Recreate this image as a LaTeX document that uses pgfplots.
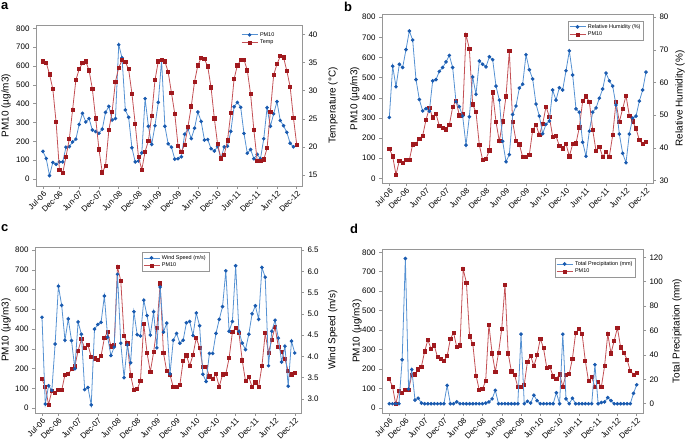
\documentclass[border=0pt]{standalone}
\usepackage{pgfplots}
\pgfplotsset{compat=1.18}
\usepackage{pgfplotstable}
\usepackage{fontspec}
\setmainfont{Liberation Sans}

\definecolor{bmark}{RGB}{25,90,175}
\definecolor{bline}{RGB}{85,145,210}
\definecolor{rmark}{RGB}{160,25,30}
\definecolor{rline}{RGB}{195,80,85}
\definecolor{axgray}{RGB}{150,150,150}

\pgfplotstableread{
i pm temp rh ws pr
0 147 35.2 49.3 4.92 0
1 109 35.0 65.0 2.88 0
2 18 32.9 58.7 3.31 0
3 88 30.3 65.6 3.20 0
4 78 24.4 64.6 4.29 36
5 91 16.0 70.1 5.65 119
6 91 15.4 75.8 5.20 12
7 169 18.3 73.0 4.38 28
8 172 21.4 60.9 4.88 3
9 197 26.6 54.8 4.37 4.5
10 212 31.9 51.3 3.71 0.5
11 290 33.8 52.0 4.81 0
12 349 34.9 51.2 4.52 0
13 303 35.2 60.5 3.22 0
14 321 33.6 60.9 3.27 0
15 260 30.3 63.4 2.86 0
16 252 25.1 64.6 4.64 0
17 243 19.6 66.3 4.75 0
18 265 15.5 68.3 4.80 15
19 354 16.7 64.6 5.42 0
20 386 23.0 54.1 4.45 0
21 313 26.3 52.6 4.02 1.5
22 321 31.6 49.7 4.22 0
23 713 34.1 40.8 5.93 0
24 644 35.4 49.5 4.31 0
25 367 35.1 61.7 3.50 0
26 328 33.8 56.4 4.27 0
27 166 29.5 66.6 3.85 0
28 91 24.1 65.6 5.05 0
29 96 18.2 64.8 4.51 0
30 139 16.0 67.9 4.48 0.5
31 427 19.2 67.0 5.32 1.5
32 280 21.1 58.9 4.96 4
33 184 25.6 54.6 4.50 11
34 283 31.9 42.0 5.05 0
35 407 35.2 35.7 4.20 0
36 631 35.5 37.9 5.63 0
37 280 35.2 50.2 4.57 0
38 187 33.3 52.8 4.78 0
39 169 29.6 58.3 3.59 0
40 106 25.9 59.5 4.38 0
41 108 20.2 68.5 4.54 57
42 118 19.2 63.9 4.31 0
43 238 20.4 61.1 4.38 2
44 267 23.6 53.4 4.79 0.5
45 215 27.2 49.7 4.82 7
46 270 31.6 44.3 4.49 2.5
47 356 34.5 47.2 5.02 0
48 306 35.8 48.2 4.72 0
49 207 35.6 57.7 3.58 0
50 210 34.3 54.6 3.41 0
51 161 30.6 58.4 4.07 0
52 149 25.1 57.7 4.07 9
53 172 20.5 63.6 4.54 0
54 109 18.0 69.7 4.87 57
55 171 18.6 62.3 5.17 4
56 174 21.2 51.9 6.01 0
57 253 26.0 50.9 4.59 4.5
58 384 32.1 41.7 4.82 0
59 407 34.5 37.4 6.13 0
60 381 35.4 45.1 4.59 0
61 242 35.5 50.9 4.31 0
62 137 33.6 52.2 4.16 0
63 157 29.4 55.2 4.52 0
64 108 23.0 58.0 5.00 32
65 131 17.6 62.9 5.19 0
66 108 17.6 60.5 4.87 1
67 214 17.8 58.9 6.09 1.5
68 379 19.8 53.1 5.86 5
69 280 26.3 44.2 3.78 2.5
70 346 32.8 38.3 4.59 0
71 411 34.7 35.4 4.85 0
72 311 36.1 44.2 4.43 0
73 283 35.9 49.1 3.87 0
74 248 33.5 49.7 4.24 0
75 190 30.7 54.3 3.30 0
76 171 25.2 57.7 4.36 8.5
77 180 20.4 63.2 4.08 15.5
}\data

\pgfplotsset{
  base/.style={scale only axis, axis line style={axgray, line width=0.6pt},
    tick style={axgray, line width=0.5pt}, tick align=outside,
    major tick length=3bp,
    ticklabel style={font=\fontsize{8}{9}\selectfont},
    /pgf/number format/assume math mode=true,
    label style={font=\fontsize{10}{11}\selectfont},
    ylabel style={anchor=center},
    legend style={font=\fontsize{5.5}{6}\selectfont, draw=axgray, line width=0.4pt,
      inner sep=1pt, row sep=-1.5pt, cells={anchor=west}, anchor=north west},
    legend image code/.code={\draw[mark repeat=2,mark phase=2,##1] plot coordinates {(0bp,0bp) (8bp,0bp) (16bp,0bp)};},
  },
  leftax/.style={base, xtick pos=left, ytick pos=left,
    ytick={0,100,...,800}, ylabel={PM10 (µg/m3)},
    xtick={0,5,11,17,23,29,35,41,47,53,59,65,71,77},
    xticklabels={Jul-06,Dec-06,Jun-07,Dec-07,Jun-08,Dec-08,Jun-09,Dec-09,Jun-10,Dec-10,Jun-11,Dec-11,Jun-12,Dec-12},
    xticklabel style={rotate=45, anchor=north east, inner sep=1pt},
  },
  rightax/.style={base, axis y line*=right, axis x line=none, xtick=\empty},
  bl/.style={color=bline, line width=0.8pt, mark=*, mark size=1.4pt, mark options={fill=bmark, draw=bmark}},
  rd/.style={color=rline, line width=0.8pt, mark=square*, mark size=1.6pt, mark options={fill=rmark, draw=rmark}},
}

\begin{document}
\begin{tikzpicture}
\useasboundingbox (0,0) rectangle (685bp,441bp);

% ---------- panel a
\begin{axis}[leftax, at={(36bp,255bp)}, width=266bp, height=161bp,
  xmin=-2.1, xmax=78.6, ymin=-37, ymax=818,
  ylabel style={at={(axis description cs:-0.113,0.5)}}]
\addplot[bl] table[x=i,y=pm]{\data};
\end{axis}
\begin{axis}[rightax, at={(36bp,255bp)}, width=266bp, height=161bp,
  xmin=-2.1, xmax=78.6, ymin=13.1, ymax=41.65, ytick={15,20,...,40},
  ylabel={Temperature (°C)},
  ylabel style={at={(axis description cs:1.117,0.5)}},
  legend style={at={(0.767,0.975)}, draw=none, fill=none}]
\addlegendimage{bl}\addlegendentry{PM10}
\addplot[rd] table[x=i,y=temp]{\data};
\addlegendentry{Temp}
\end{axis}

% ---------- panel b
\begin{axis}[leftax, at={(382bp,258bp)}, width=271bp, height=169bp,
  xmin=-2.2, xmax=79.1, ymin=-23, ymax=816,
  ylabel style={at={(axis description cs:-0.1,0.5)}}]
\addplot[rd] table[x=i,y=pm]{\data};
\end{axis}
\begin{axis}[rightax, at={(382bp,258bp)}, width=271bp, height=169bp,
  xmin=-2.2, xmax=79.1, ymin=29.2, ymax=81.0, ytick={30,40,...,80},
  ylabel={Relative Humidity (\%)},
  ylabel style={at={(axis description cs:1.10,0.5)}},
  legend style={at={(0.686,0.959)}}]
\addplot[bl] table[x=i,y=rh]{\data};
\addlegendentry{Relative Humidity (\%)}
\addlegendimage{rd}\addlegendentry{PM10}
\end{axis}

% ---------- panel c
\begin{axis}[leftax, at={(35bp,28bp)}, width=266bp, height=166bp,
  xmin=-2.13, xmax=78.9, ymin=-24, ymax=815,
  ylabel style={at={(axis description cs:-0.109,0.5)}}]
\addplot[rd] table[x=i,y=pm]{\data};
\end{axis}
\begin{axis}[rightax, at={(35bp,28bp)}, width=266bp, height=166bp,
  xmin=-2.13, xmax=78.9, ymin=2.67, ymax=6.57, ytick={3.0,3.5,...,6.5},
  yticklabel style={/pgf/number format/fixed, /pgf/number format/fixed zerofill, /pgf/number format/precision=1},
  ylabel={Wind Speed (m/s)},
  ylabel style={at={(axis description cs:1.12,0.5)}},
  legend style={at={(0.402,0.97)}}]
\addplot[bl] table[x=i,y=ws]{\data};
\addlegendentry{Wind Speed (m/s)}
\addlegendimage{rd}\addlegendentry{PM10}
\end{axis}

% ---------- panel d
\begin{axis}[leftax, at={(382bp,28bp)}, width=261bp, height=164bp,
  xmin=-2.27, xmax=78.96, ymin=-27, ymax=817,
  ylabel style={at={(axis description cs:-0.096,0.5)}}]
\addplot[rd] table[x=i,y=pm]{\data};
\end{axis}
\begin{axis}[rightax, at={(382bp,28bp)}, width=261bp, height=164bp,
  xmin=-2.27, xmax=78.96, ymin=-7.6, ymax=126.8, ytick={0,20,...,120},
  ylabel={Total Precipitation (mm)},
  ylabel style={at={(axis description cs:1.13,0.5)}},
  legend style={at={(0.663,0.945)}}]
\addplot[bl] table[x=i,y=pr]{\data};
\addlegendentry{Total Precipitation (mm)}
\addlegendimage{rd}\addlegendentry{PM10}
\end{axis}

\node[anchor=north west, inner sep=0pt, font=\bfseries\fontsize{13}{13}\selectfont] at (1bp,439bp) {a};
\node[anchor=north west, inner sep=0pt, font=\bfseries\fontsize{13}{13}\selectfont] at (344bp,439bp) {b};
\node[anchor=north west, inner sep=0pt, font=\bfseries\fontsize{13}{13}\selectfont] at (1bp,217bp) {c};
\node[anchor=north west, inner sep=0pt, font=\bfseries\fontsize{13}{13}\selectfont] at (350bp,217bp) {d};
\end{tikzpicture}
\end{document}
